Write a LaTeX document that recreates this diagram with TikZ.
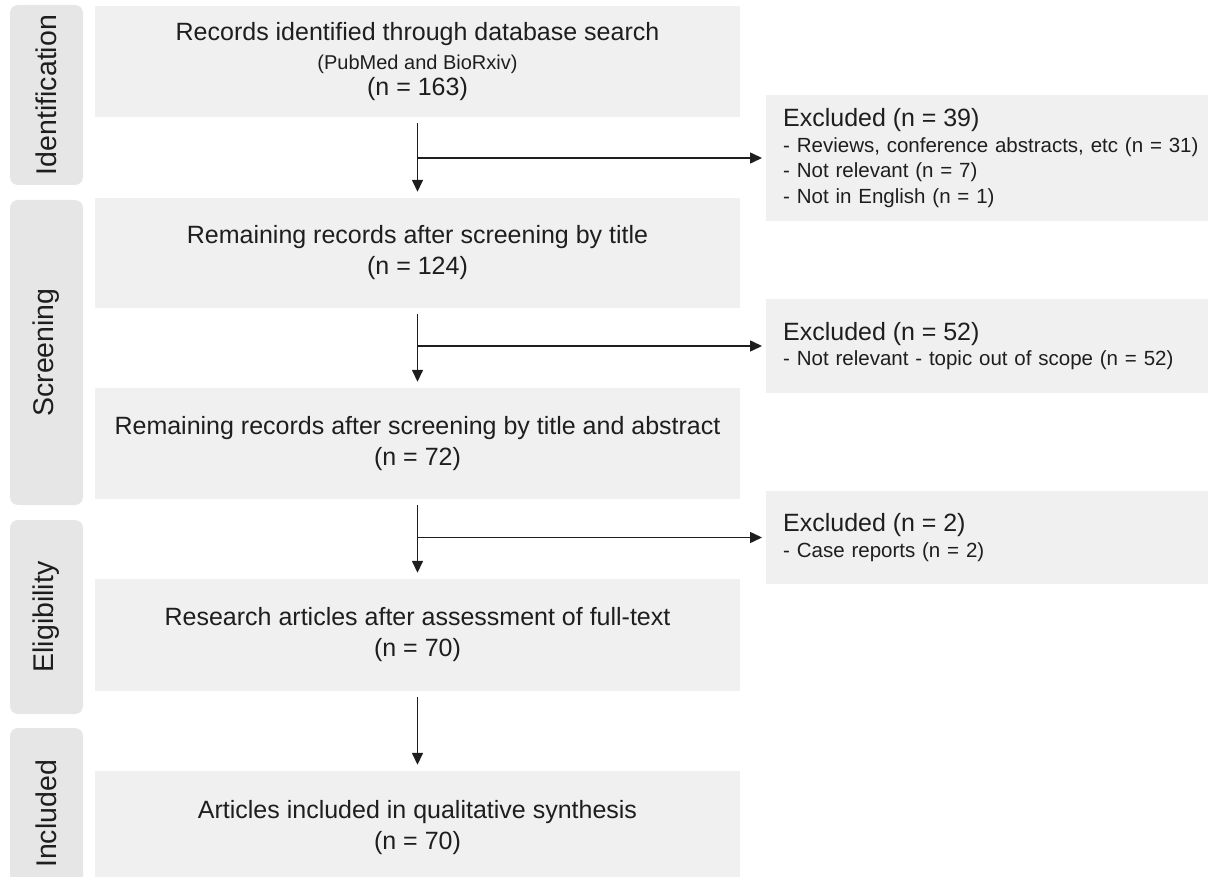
\documentclass[tikz,border=0pt]{standalone}
\usepackage{fontspec}
\setmainfont{Liberation Sans}
\usepackage{tikz}
\usetikzlibrary{arrows.meta}
\definecolor{boxgray}{HTML}{F0F0F0}
\definecolor{sidegray}{HTML}{E6E6E6}
\definecolor{inkgray}{HTML}{1E1E1E}

\begin{document}
\begin{tikzpicture}[x=1pt, y=-1pt, inkgray,
   flow/.style={-{Triangle[length=12pt,width=11pt]}, draw=inkgray, line width=1.5pt}]
   \useasboundingbox (0,0) rectangle (1208,877);
   \begin{scope}[every node/.style={rotate=90, fill=sidegray, rounded corners=8pt, minimum height=73,
       inner sep=0pt, font=\fontsize{28.5}{32}\selectfont}]
    \node (s1) at (46.5,95) [minimum width=180] {Identification};
    \node (s2) at (46.5,352.5) [minimum width=305] {Screening};
    \node (s3) at (46.5,617) [minimum width=194] {Eligibility};
    \node (s4) at (46.5,814) [minimum width=172] {Included};
   \end{scope}
   \begin{scope}[every node/.style={fill=boxgray, minimum width=645, align=center,
       font=\fontsize{25}{31}\selectfont}]
    \node (b1) at (417.5,61.5) [minimum height=111] {Records identified through database search\\[-2pt]
      {\fontsize{20}{26}\selectfont (PubMed and BioRxiv)}\\[-5pt] (n = 163)};
    \node (b2) at (417.5,253) [minimum height=110] {Remaining records after screening by title\\ (n = 124)};
    \node (b3) at (417.5,443.5) [minimum height=111] {Remaining records after screening by title and abstract\\ (n = 72)};
    \node (b4) at (417.5,635) [minimum height=112] {Research articles after assessment of full-text\\ (n = 70)};
    \node (b5) at (417.5,827.5) [minimum height=113] {Articles included in qualitative synthesis\\ (n = 70)};
   \end{scope}
   \begin{scope}[every node/.style={fill=boxgray, anchor=west, text width=425, inner xsep=17pt,
       align=left, font=\fontsize{20.5}{25.5}\selectfont}]
    \node (e1) at (766,158) [minimum height=126] {{\fontsize{25}{26}\selectfont Excluded (n = 39)}\\
      - Reviews, conference abstracts, etc (n = 31)\\ - Not relevant (n = 7)\\ - Not in English (n = 1)};
    \node (e2) at (766,346) [minimum height=94] {{\fontsize{25}{26}\selectfont Excluded (n = 52)}\\
      - Not relevant - topic out of scope (n = 52)};
    \node (e3) at (766,537.5) [minimum height=93] {{\fontsize{25}{27}\selectfont Excluded (n = 2)}\\
      - Case reports (n = 2)};
   \end{scope}
   \begin{scope}[every path/.style={flow, shorten <=6pt, shorten >=6pt}]
    \draw (b1) -- (b2);
    \draw (b2) -- (b3);
    \draw (b3) -- (b4);
    \draw (b4) -- (b5);
   \end{scope}
   \draw[flow, shorten >=4pt] (b1.south |- e1.west) -- (e1.west);
   \draw[flow, shorten >=4pt] (b2.south |- e2.west) -- (e2.west);
   \draw[flow, shorten >=4pt] (b3.south |- e3.west) -- (e3.west);
\end{tikzpicture}
\end{document}
